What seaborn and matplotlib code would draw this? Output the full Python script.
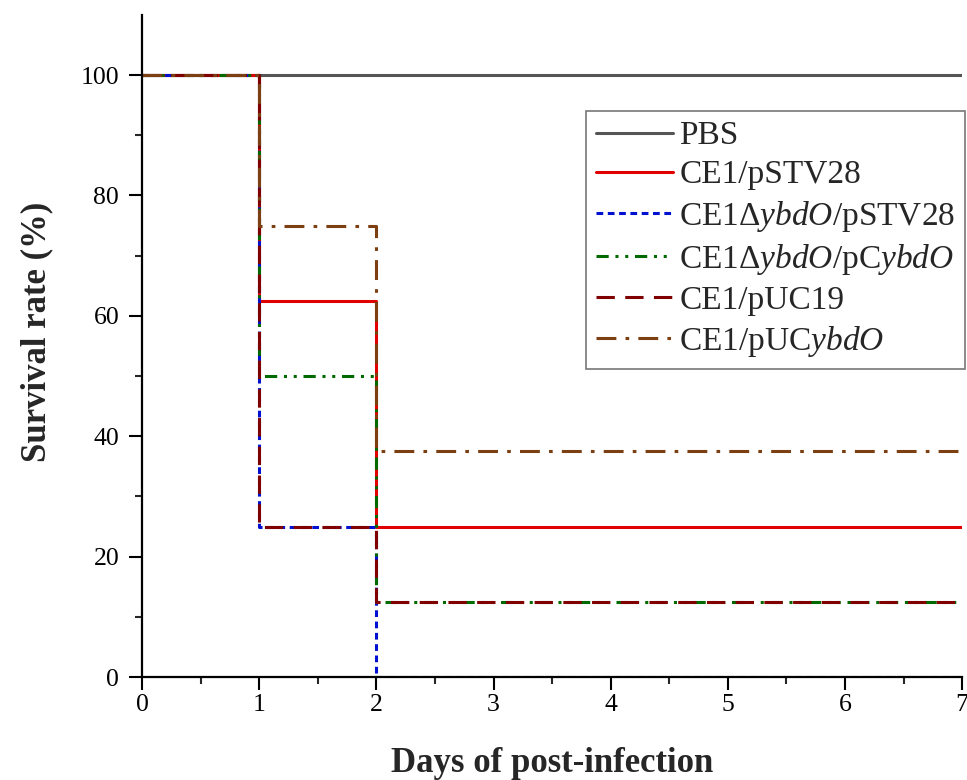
import pandas as pd
import seaborn as sns
import matplotlib.pyplot as plt
from matplotlib.ticker import MultipleLocator

# Survival data (step points)
days = [0, 1, 2, 7]
groups = ["PBS", "CE1/pSTV28", "CE1Δ$\\it{ybdO}$/pSTV28",
          "CE1Δ$\\it{ybdO}$/pC$\\it{ybdO}$", "CE1/pUC19", "CE1/pUC$\\it{ybdO}$"]
pbs = [100, 100, 100, 100]
ce1_pstv28 = [100, 62.5, 25, 25]
del_pstv28 = [100, 25, 0, 0]
del_pcybdo = [100, 50, 12.5, 12.5]
ce1_puc19 = [100, 25, 12.5, 12.5]
ce1_pucybdo = [100, 75, 37.5, 37.5]

colors = ["#555555", "#e00000", "#0010d0", "#006a00", "#800000", "#7b3f12"]
dashes = ["", "", (2.2, 1.5), (4, 2.2, 1, 2.2, 1, 2.2), (6, 3.4), (6.5, 3, 1.2, 3)]

df = pd.DataFrame({
    "day": days * 6,
    "survival": pbs + ce1_pstv28 + del_pstv28 + del_pcybdo + ce1_puc19 + ce1_pucybdo,
    "group": [g for g in groups for _ in days],
})

sns.set_style("ticks")
plt.rcParams["font.family"] = ["Liberation Serif", "DejaVu Sans"]
plt.rcParams["mathtext.fontset"] = "custom"
plt.rcParams["mathtext.rm"] = "Liberation Serif"
plt.rcParams["mathtext.it"] = "Liberation Serif:italic"

fig = plt.figure(figsize=(9.67, 7.8), dpi=100)
ax = fig.add_axes([0.147, 0.132, 0.848, 0.849])

sns.lineplot(data=df, x="day", y="survival", hue="group", style="group",
             palette=dict(zip(groups, colors)), dashes=dict(zip(groups, dashes)),
             hue_order=groups, style_order=groups,
             drawstyle="steps-post", linewidth=2.2, ax=ax)

ax.set_xlim(0, 7)
ax.set_ylim(0, 110)
ax.set_xticks(range(0, 8))
ax.set_yticks(range(0, 101, 20))
ax.xaxis.set_minor_locator(MultipleLocator(0.5))
ax.set_yticks([v for v in range(10, 101, 20)], minor=True)
ax.tick_params(which="major", direction="out", length=9.5, width=1.5, labelsize=18.5,
               colors="black")
ax.tick_params(which="minor", direction="out", length=5, width=1.5)
ax.tick_params(axis="y", which="major", pad=7)
ax.tick_params(axis="x", which="major", pad=3)
for s in ["top", "right"]:
    ax.spines[s].set_visible(False)
for s in ["left", "bottom"]:
    ax.spines[s].set_linewidth(1.6)
    ax.spines[s].set_color("black")

ax.set_xlabel("Days of post-infection", fontsize=25, fontweight="bold", labelpad=22)
ax.set_ylabel("Survival rate (%)", fontsize=25, fontweight="bold")
ax.yaxis.set_label_coords(-0.108, 0.521)

handles, labels = ax.get_legend_handles_labels()
leg = ax.legend(handles, labels, loc="upper right", bbox_to_anchor=(1.004, 0.855),
                borderaxespad=0, fontsize=24, frameon=True, fancybox=False,
                edgecolor="#555555", handlelength=2.3, handletextpad=0.2,
                labelspacing=0.25, borderpad=0.3)
leg.get_frame().set_linewidth(1.2)

plt.savefig("out.png", dpi=100)
